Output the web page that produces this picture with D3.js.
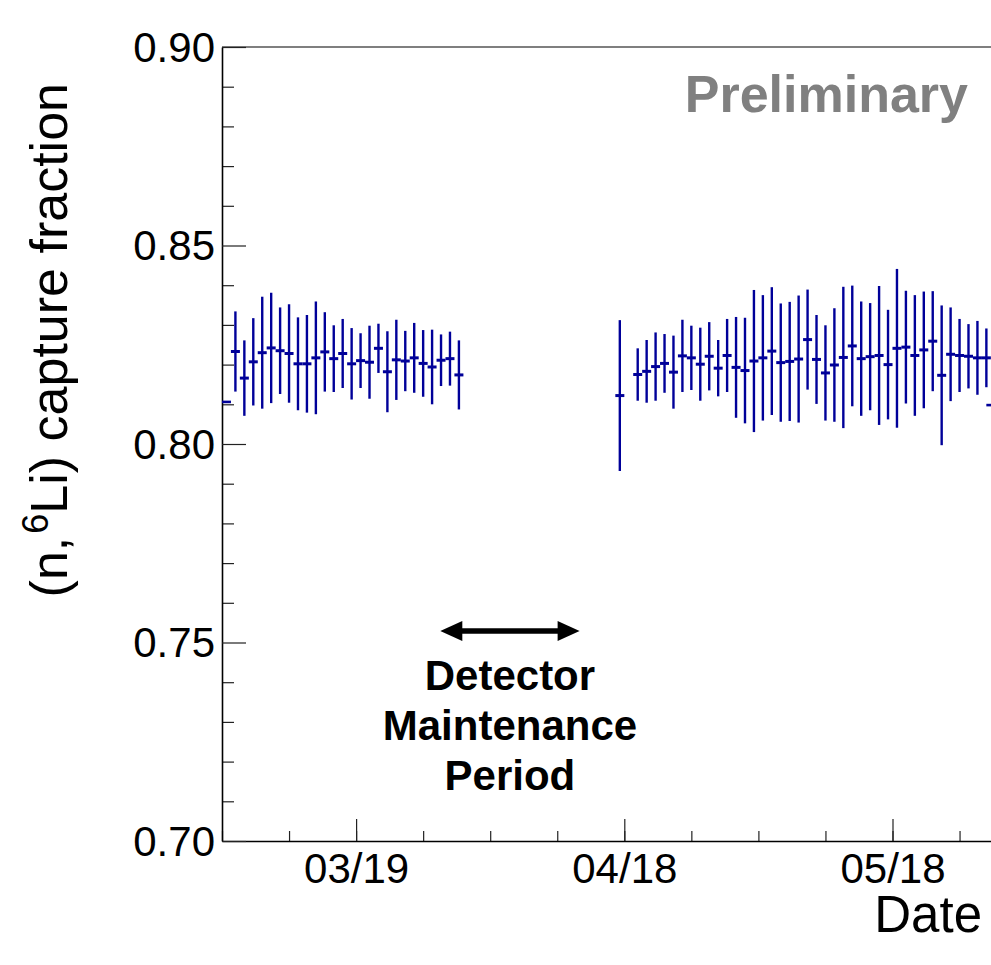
<!DOCTYPE html>
<html>
<head>
<meta charset="utf-8">
<script src="https://cdn.jsdelivr.net/npm/d3@7"></script>
<style>
  html, body { margin: 0; padding: 0; background: #fff; overflow: hidden; }
  svg { display: block; font-family: "Liberation Sans", Arial, Helvetica, sans-serif; }
</style>
</head>
<body>
<svg id="chart" width="991" height="965"></svg>
<script>
// daily bins (2018), one point per day at noon
var dates = ["03/05","03/06","03/07","03/08","03/09","03/10","03/11","03/12","03/13","03/14",
  "03/15","03/16","03/17","03/18","03/19","03/20","03/21","03/22","03/23","03/24",
  "03/25","03/26","03/27","03/28","03/29","03/30",
  "04/17",
  "04/19","04/20","04/21","04/22","04/23","04/24","04/25","04/26","04/27","04/28",
  "04/29","04/30","05/01","05/02","05/03","05/04","05/05","05/06","05/07","05/08",
  "05/09","05/10","05/11","05/12","05/13","05/14","05/15","05/16","05/17","05/18",
  "05/19","05/20","05/21","05/22","05/23","05/24","05/25","05/26","05/27","05/28"];

var fractions = [0.8233,0.8166,0.8207,0.8230,0.8242,0.8235,0.8228,0.8202,0.8202,0.8217,
  0.8232,0.8215,0.8228,0.8202,0.8210,0.8206,0.8241,0.8182,0.8212,0.8209,
  0.8217,0.8203,0.8194,0.8211,0.8215,0.8174,
  0.8122,
  0.8175,0.8183,0.8195,0.8203,0.8181,0.8222,0.8217,0.8201,0.8221,0.8191,
  0.8223,0.8193,0.8185,0.8209,0.8217,0.8234,0.8205,0.8208,0.8214,0.8263,
  0.8213,0.8179,0.8199,0.8218,0.8247,0.8215,0.8220,0.8223,0.8200,0.8241,
  0.8244,0.8223,0.8237,0.8259,0.8173,0.8226,0.8223,0.8221,0.8217,0.8217];

var errors = [0.0101,0.0095,0.0110,0.0141,0.0139,0.0109,0.0124,0.0117,0.0123,0.0142,
  0.0100,0.0084,0.0087,0.0090,0.0069,0.0092,0.0062,0.0102,0.0101,0.0076,
  0.0088,0.0084,0.0094,0.0065,0.0068,0.0087,
  0.0190,
  0.0066,0.0079,0.0086,0.0074,0.0092,0.0091,0.0081,0.0092,0.0086,0.0071,
  0.0092,0.0127,0.0133,0.0179,0.0158,0.0161,0.0149,0.0150,0.0160,0.0126,
  0.0112,0.0120,0.0143,0.0178,0.0152,0.0144,0.0135,0.0175,0.0138,0.0200,
  0.0142,0.0152,0.0147,0.0126,0.0176,0.0118,0.0092,0.0081,0.0093,0.0074];

// stray points at the frame edges
var edgeTimes = ["03/04 12","05/29 00"];
var edgeValues = [0.8106, 0.8098];

var xMajor = ["03/19","04/18","05/18"];
var yMajor = [0.70, 0.75, 0.80, 0.85, 0.90];
var yMinor = [0.71,0.72,0.73,0.74,0.76,0.77,0.78,0.79,0.81,0.82,0.83,0.84,0.86,0.87,0.88,0.89];

// maintenance period annotation
var maintenance = ["03/28 10","04/13 00"];
var maintenanceLabel = ["Detector", "Maintenance", "Period"];

var parseDay = d3.utcParse("%Y/%m/%d %H");
function toDate(s) { return parseDay("2018/" + (s.length > 5 ? s : s + " 12")); }
function toMidnight(s) { return parseDay("2018/" + s + " 00"); }

var svg = d3.select("#chart");
var plotLeft = 222, plotTop = 47, plotBottom = 841;

var x = d3.scaleUtc()
  .domain([toMidnight("03/04"), toMidnight("06/02")])
  .range([plotLeft, plotLeft + 90 * 8.94]);
var y = d3.scaleLinear().domain([0.70, 0.90]).range([plotBottom, plotTop]);

// minor x ticks every 7.5 days
var xMinor = [];
for (var t = +toMidnight("03/04"); t < +toMidnight("06/02"); t += 7.5 * 864e5) xMinor.push(new Date(t));

var fmt = d3.utcFormat("%m/%d");

// frame
svg.append("line").attr("x1", plotLeft).attr("x2", x.range()[1]).attr("y1", plotTop).attr("y2", plotTop)
  .attr("stroke", "#000").attr("stroke-width", 1.2);

var gx = svg.append("g").attr("transform", "translate(0," + plotBottom + ")");
gx.call(d3.axisBottom(x).tickValues(xMinor).tickSizeInner(-10).tickSizeOuter(0).tickFormat(""));
gx.select(".domain").remove();
var gx2 = svg.append("g").attr("transform", "translate(0," + plotBottom + ")");
gx2.call(d3.axisBottom(x).tickValues(xMajor.map(toMidnight)).tickSizeInner(-22).tickSizeOuter(0)
  .tickPadding(12).tickFormat(fmt));

var gy = svg.append("g").attr("transform", "translate(" + plotLeft + ",0)");
gy.call(d3.axisLeft(y).tickValues(yMinor).tickSizeInner(-12).tickSizeOuter(0).tickFormat(""));
gy.select(".domain").remove();
var gy2 = svg.append("g").attr("transform", "translate(" + plotLeft + ",0)");
gy2.call(d3.axisLeft(y).tickValues(yMajor).tickSizeInner(-24).tickSizeOuter(0)
  .tickPadding(7).tickFormat(d3.format(".2f")));

svg.selectAll(".tick line").attr("stroke", "#222").attr("stroke-width", 1.2);
svg.selectAll(".domain").attr("stroke", "#000").attr("stroke-width", 1.6);
svg.selectAll(".tick text").attr("font-size", 42).attr("fill", "#000");
gy2.selectAll(".tick text").attr("dy", "0.34em");

// data points
var pts = dates.map(function(d, i) { return { date: toDate(d), v: fractions[i], e: errors[i] }; });
var blue = "#000099";
var gp = svg.append("g");
gp.selectAll("line.err").data(pts).enter().append("line").attr("class", "err")
  .attr("x1", function(d) { return x(d.date); }).attr("x2", function(d) { return x(d.date); })
  .attr("y1", function(d) { return y(d.v + d.e); }).attr("y2", function(d) { return y(d.v - d.e); })
  .attr("stroke", blue).attr("stroke-width", 2.4);
gp.selectAll("line.mark").data(pts).enter().append("line").attr("class", "mark")
  .attr("x1", function(d) { return x(d.date) - 4.5; }).attr("x2", function(d) { return x(d.date) + 4.5; })
  .attr("y1", function(d) { return y(d.v); }).attr("y2", function(d) { return y(d.v); })
  .attr("stroke", blue).attr("stroke-width", 3);

gp.selectAll("line.edge").data(edgeTimes).enter().append("line").attr("class", "edge")
  .attr("x1", function(d) { return x(toDate(d)) - 4.5; }).attr("x2", function(d) { return x(toDate(d)) + 4.5; })
  .attr("y1", function(d, i) { return y(edgeValues[i]); }).attr("y2", function(d, i) { return y(edgeValues[i]); })
  .attr("stroke", blue).attr("stroke-width", 2.6);

// annotation arrow
var ax1 = x(toDate(maintenance[0])), ax2 = x(toDate(maintenance[1])), ay = 631;
svg.append("line").attr("x1", ax1 + 12).attr("x2", ax2 - 12).attr("y1", ay).attr("y2", ay)
  .attr("stroke", "#000").attr("stroke-width", 5.5);
svg.append("path").attr("d", "M" + ax1 + "," + ay + "l22,-10v20z").attr("fill", "#000");
svg.append("path").attr("d", "M" + ax2 + "," + ay + "l-22,-10v20z").attr("fill", "#000");

svg.selectAll("text.note").data(maintenanceLabel).enter().append("text").attr("class", "note")
  .attr("x", (ax1 + ax2) / 2).attr("y", function(d, i) { return 690 + i * 50; })
  .attr("text-anchor", "middle").attr("font-size", 42).attr("font-weight", "bold")
  .text(function(d) { return d; });

svg.append("text").attr("x", 968).attr("y", 112).attr("text-anchor", "end")
  .attr("font-size", 52).attr("font-weight", "bold").attr("fill", "#808080").text("Preliminary");

// axis titles
svg.append("text").attr("x", 982).attr("y", 932).attr("text-anchor", "end")
  .attr("font-size", 51).text("Date");

var yt = svg.append("text").attr("transform", "translate(67,83) rotate(-90)")
  .attr("text-anchor", "end").attr("font-size", 52);
yt.append("tspan").text("(n,");
yt.append("tspan").attr("font-size", 36).attr("dx", 3).attr("dy", -19).text("6");
yt.append("tspan").attr("dy", 19).text("Li) capture fraction");
</script>
</body>
</html>
